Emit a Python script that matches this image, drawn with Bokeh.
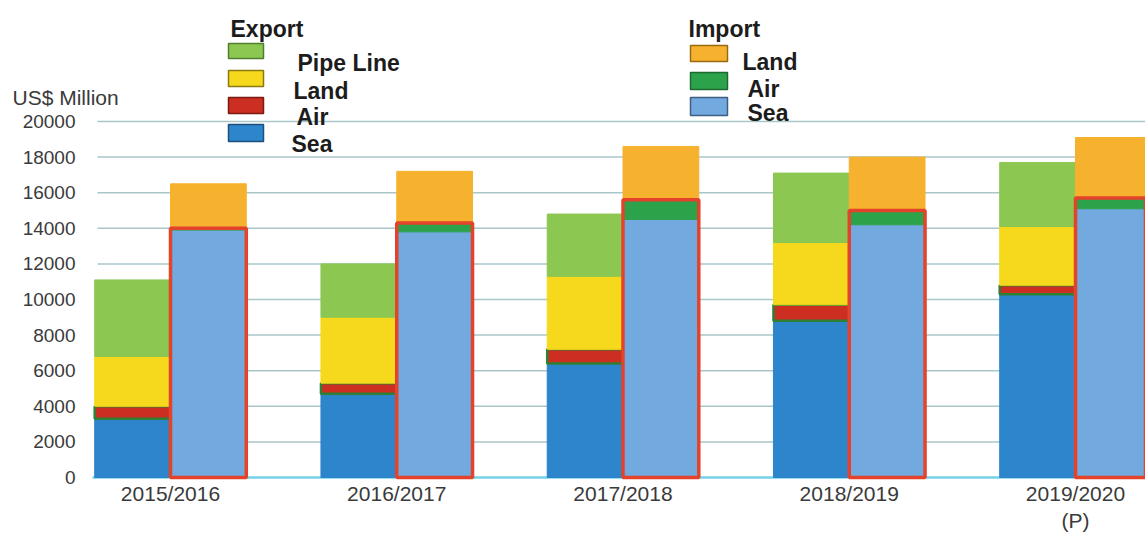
from bokeh.plotting import figure
from bokeh.models import Range1d, Label, BoxAnnotation
from bokeh.core.properties import value
from bokeh.embed import file_html
from bokeh.resources import INLINE

# ---- data (US$ million) ----
years = ["2015/2016", "2016/2017", "2017/2018", "2018/2019", "2019/2020\n(P)"]
export_sea = [3300, 4700, 6400, 8800, 10300]
export_air = [700, 600, 800, 900, 500]
export_land = [2800, 3700, 4100, 3500, 3300]
export_pipe = [4300, 3000, 3500, 3900, 3600]
import_sea = [13900, 13800, 14500, 14200, 15100]
import_air = [100, 500, 1100, 800, 600]
import_land = [2500, 2900, 3000, 3000, 3400]
y_ticks = [0, 2000, 4000, 6000, 8000, 10000, 12000, 14000, 16000, 18000, 20000]

# ---- colours ----
C_PIPE = "#8cc751"
C_ELAND = "#f6d81c"
C_EAIR = "#cc2f22"
C_ESEA = "#2d85cc"
C_ILAND = "#f6b22e"
C_IAIR = "#2ca24b"
C_ISEA = "#72a9de"
C_IBORDER = "#e3432b"

W, H = 1145, 535
ZERO = 477       # page y of value 0

# page-pixel -> data helpers (for annotation placement only)
def px_x(px):
    return (px - 170.0) / 226.25

def px_y(py):
    return (ZERO - py) / 0.0178

idx = list(range(len(years)))
bw = 0.335
ex_x = [i - bw / 2 for i in idx]
im_x = [i + bw / 2 for i in idx]

p = figure(width=W, height=H, output_backend="svg", toolbar_location=None,
           x_range=Range1d(px_x(0), px_x(W)), y_range=Range1d(px_y(H), px_y(0)),
           min_border_left=0, min_border_right=0, min_border_top=0, min_border_bottom=0)
p.outline_line_color = None
p.background_fill_color = "white"
p.border_fill_color = "white"
p.xaxis.visible = False
p.yaxis.visible = False
p.xgrid.grid_line_color = None
p.ygrid.grid_line_color = None

# grid lines and baseline
grid_vals = y_ticks[1:]
p.segment(x0=[px_x(97)] * len(grid_vals), x1=[px_x(W + 5)] * len(grid_vals),
          y0=grid_vals, y1=grid_vals, line_color="#a9c6c9", line_width=1.5)
p.segment(x0=[px_x(92)], x1=[px_x(W + 5)], y0=[0], y1=[0], line_color="#74d2e8", line_width=2.5)

# y tick labels
p.text(x=[px_x(75)] * len(y_ticks), y=y_ticks, text=[str(t) for t in y_ticks],
       text_align="right", text_baseline="middle", text_font=value("Liberation Sans"),
       text_font_size="19px", text_color="#3a3a3a")

# category labels
p.text(x=idx, y=[px_y(481)] * len(idx), text=years,
       text_align="center", text_baseline="top", text_font=value("Liberation Sans"),
       text_font_size="21px", text_color="#3a3a3a", text_line_height=1.2)

# export stack
e1 = export_sea
e2 = [a + b for a, b in zip(e1, export_air)]
e3 = [a + b for a, b in zip(e2, export_land)]
e4 = [a + b for a, b in zip(e3, export_pipe)]
p.vbar(x=ex_x, width=bw, bottom=0, top=e1, fill_color=C_ESEA, line_color=C_ESEA)
p.vbar(x=ex_x, width=bw, bottom=e1, top=e2, fill_color=C_EAIR, line_color="#2f7f34", line_width=2.5)
p.vbar(x=ex_x, width=bw, bottom=e2, top=e3, fill_color=C_ELAND, line_color=C_ELAND)
p.vbar(x=ex_x, width=bw, bottom=e3, top=e4, fill_color=C_PIPE, line_color=C_PIPE)

# import stack
i1 = import_sea
i2 = [a + b for a, b in zip(i1, import_air)]
i3 = [a + b for a, b in zip(i2, import_land)]
p.vbar(x=im_x, width=bw, bottom=0, top=i1, fill_color=C_ISEA, line_color=C_ISEA)
p.vbar(x=im_x, width=bw, bottom=i1, top=i2, fill_color=C_IAIR, line_color=C_IAIR)
p.vbar(x=im_x, width=bw, bottom=i2, top=i3, fill_color=C_ILAND, line_color=C_ILAND)
p.vbar(x=im_x, width=bw, bottom=0, top=i2, fill_color=None, line_color=C_IBORDER, line_width=3.5)

# texts
def lab(text, px, py, size="23px", bold=True, align="left", color="#1c1c1c"):
    p.add_layout(Label(x=px_x(px), y=px_y(py), text=text, text_align=align,
                       text_baseline="middle", text_font="Liberation Sans",
                       text_font_size=size, text_font_style="bold" if bold else "normal",
                       text_color=color))

lab("US$ Million", 12, 97, size="21px", bold=False, color="#3a3a3a")

def swatch(x0, x1, y0, y1, fill, line):
    p.add_layout(BoxAnnotation(left=px_x(x0), right=px_x(x1), top=px_y(y0), bottom=px_y(y1),
                               fill_color=fill, fill_alpha=1, line_color=line, line_width=1.5,
                               line_alpha=1))

# export legend
lab("Export", 230, 28)
swatch(228, 263, 43, 58, C_PIPE, "#4f7f2c")
swatch(228, 263, 70, 86, C_ELAND, "#8a7a10")
swatch(228, 263, 97, 113, C_EAIR, "#7a1a12")
swatch(228, 263, 124, 141, C_ESEA, "#1d4f7c")
lab("Pipe Line", 297, 62)
lab("Land", 293, 90)
lab("Air", 296, 116)
lab("Sea", 291, 143)

# import legend
lab("Import", 688, 28)
swatch(690, 727, 45, 61, C_ILAND, "#9a6a10")
swatch(690, 727, 72, 89, C_IAIR, "#1c6a30")
swatch(690, 727, 97, 115, C_ISEA, "#3f5f80")
lab("Land", 742, 61)
lab("Air", 747, 88)
lab("Sea", 747, 112)

open("out.html", "w").write(file_html(p, INLINE))
